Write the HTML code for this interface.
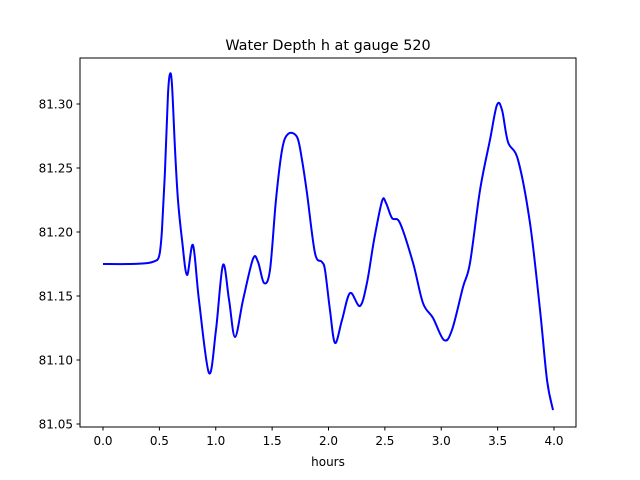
<!DOCTYPE html>
<html><head><meta charset="utf-8"><style>
body{margin:0;background:#fff}
svg{display:block;font-family:"DejaVu Sans","Liberation Sans",sans-serif}
</style></head><body>
<svg id="chart" width="640" height="480" viewBox="0 0 640 480">
<rect width="640" height="480" fill="#fff"/>
<text x="328" y="50" text-anchor="middle" font-size="14.4">Water Depth h at gauge 520</text>
<g id="ticks"></g>
<path id="line" fill="none" stroke="#0000ff" stroke-width="2" stroke-linejoin="round"/>
<rect x="80" y="58" width="496" height="369" fill="none" stroke="#000" stroke-width="1"/>
<text x="328" y="466" text-anchor="middle" font-size="12">hours</text>
</svg>
<script>
const times=[0,0.239,0.399,0.461,0.488,0.505,0.523,0.550,0.576,0.594,0.612,0.639,0.665,0.701,0.745,0.798,0.851,0.940,1.002,1.064,1.118,1.171,1.242,1.330,1.375,1.428,1.481,1.534,1.588,1.641,1.721,1.765,1.809,1.880,1.942,1.969,2.013,2.058,2.120,2.191,2.279,2.341,2.404,2.475,2.510,2.563,2.634,2.750,2.838,2.927,3.024,3.095,3.193,3.255,3.344,3.432,3.494,3.539,3.592,3.681,3.787,3.876,3.938,3.991];
const depths=[81.175,81.175,81.1758,81.1773,81.1789,81.1844,81.2016,81.2484,81.3070,81.3234,81.3148,81.2641,81.2250,81.1938,81.1664,81.1898,81.1469,81.0898,81.1234,81.1742,81.1469,81.1180,81.1469,81.1789,81.1766,81.1602,81.1703,81.2250,81.2641,81.2766,81.2742,81.2563,81.2305,81.1836,81.1766,81.1703,81.1391,81.1133,81.1313,81.1523,81.1422,81.1602,81.1938,81.2242,81.2227,81.2109,81.2070,81.1758,81.1445,81.1328,81.1156,81.1234,81.1570,81.1758,81.2328,81.2719,81.2992,81.2953,81.2703,81.2563,81.2070,81.1391,81.0844,81.0609];
const xTicks=[0,0.5,1,1.5,2,2.5,3,3.5,4];
const yTicks=[81.05,81.10,81.15,81.20,81.25,81.30];
const xs=t=>103+t*112.75;
const ys=v=>104+(81.30-v)*1280;
const NS='http://www.w3.org/2000/svg';
const g=document.getElementById('ticks');
function mk(tag,a){const e=document.createElementNS(NS,tag);for(const k in a)e.setAttribute(k,a[k]);g.appendChild(e);return e;}
xTicks.forEach(t=>{
  const l=mk('line',{x1:xs(t),x2:xs(t),y1:427,y2:430.5,stroke:'#000'});
  
  
  const tx=mk('text',{x:xs(t),y:445,'text-anchor':'middle','font-size':12});
  tx.textContent=t.toFixed(1);
  
  
});
yTicks.forEach(v=>{
  const l=mk('line',{x1:76.5,x2:80,y1:ys(v),y2:ys(v),stroke:'#000'});
  
  
  const tx=mk('text',{x:73,y:ys(v)+4.5,'text-anchor':'end','font-size':12});
  tx.textContent=v.toFixed(2);
  
  
});
const P=times.map((t,i)=>[xs(t),ys(depths[i])]);
let d='M'+P[0][0]+','+P[0][1];
for(let i=0;i<P.length-1;i++){
  const p0=P[Math.max(0,i-1)],p1=P[i],p2=P[i+1],p3=P[Math.min(P.length-1,i+2)];
  const c1=[p1[0]+(p2[0]-p0[0])/6,p1[1]+(p2[1]-p0[1])/6];
  const c2=[p2[0]-(p3[0]-p1[0])/6,p2[1]-(p3[1]-p1[1])/6];
  d+=` C${c1[0]},${c1[1]} ${c2[0]},${c2[1]} ${p2[0]},${p2[1]}`;
}
document.getElementById('line').setAttribute('d',d);
</script>
</body></html>
